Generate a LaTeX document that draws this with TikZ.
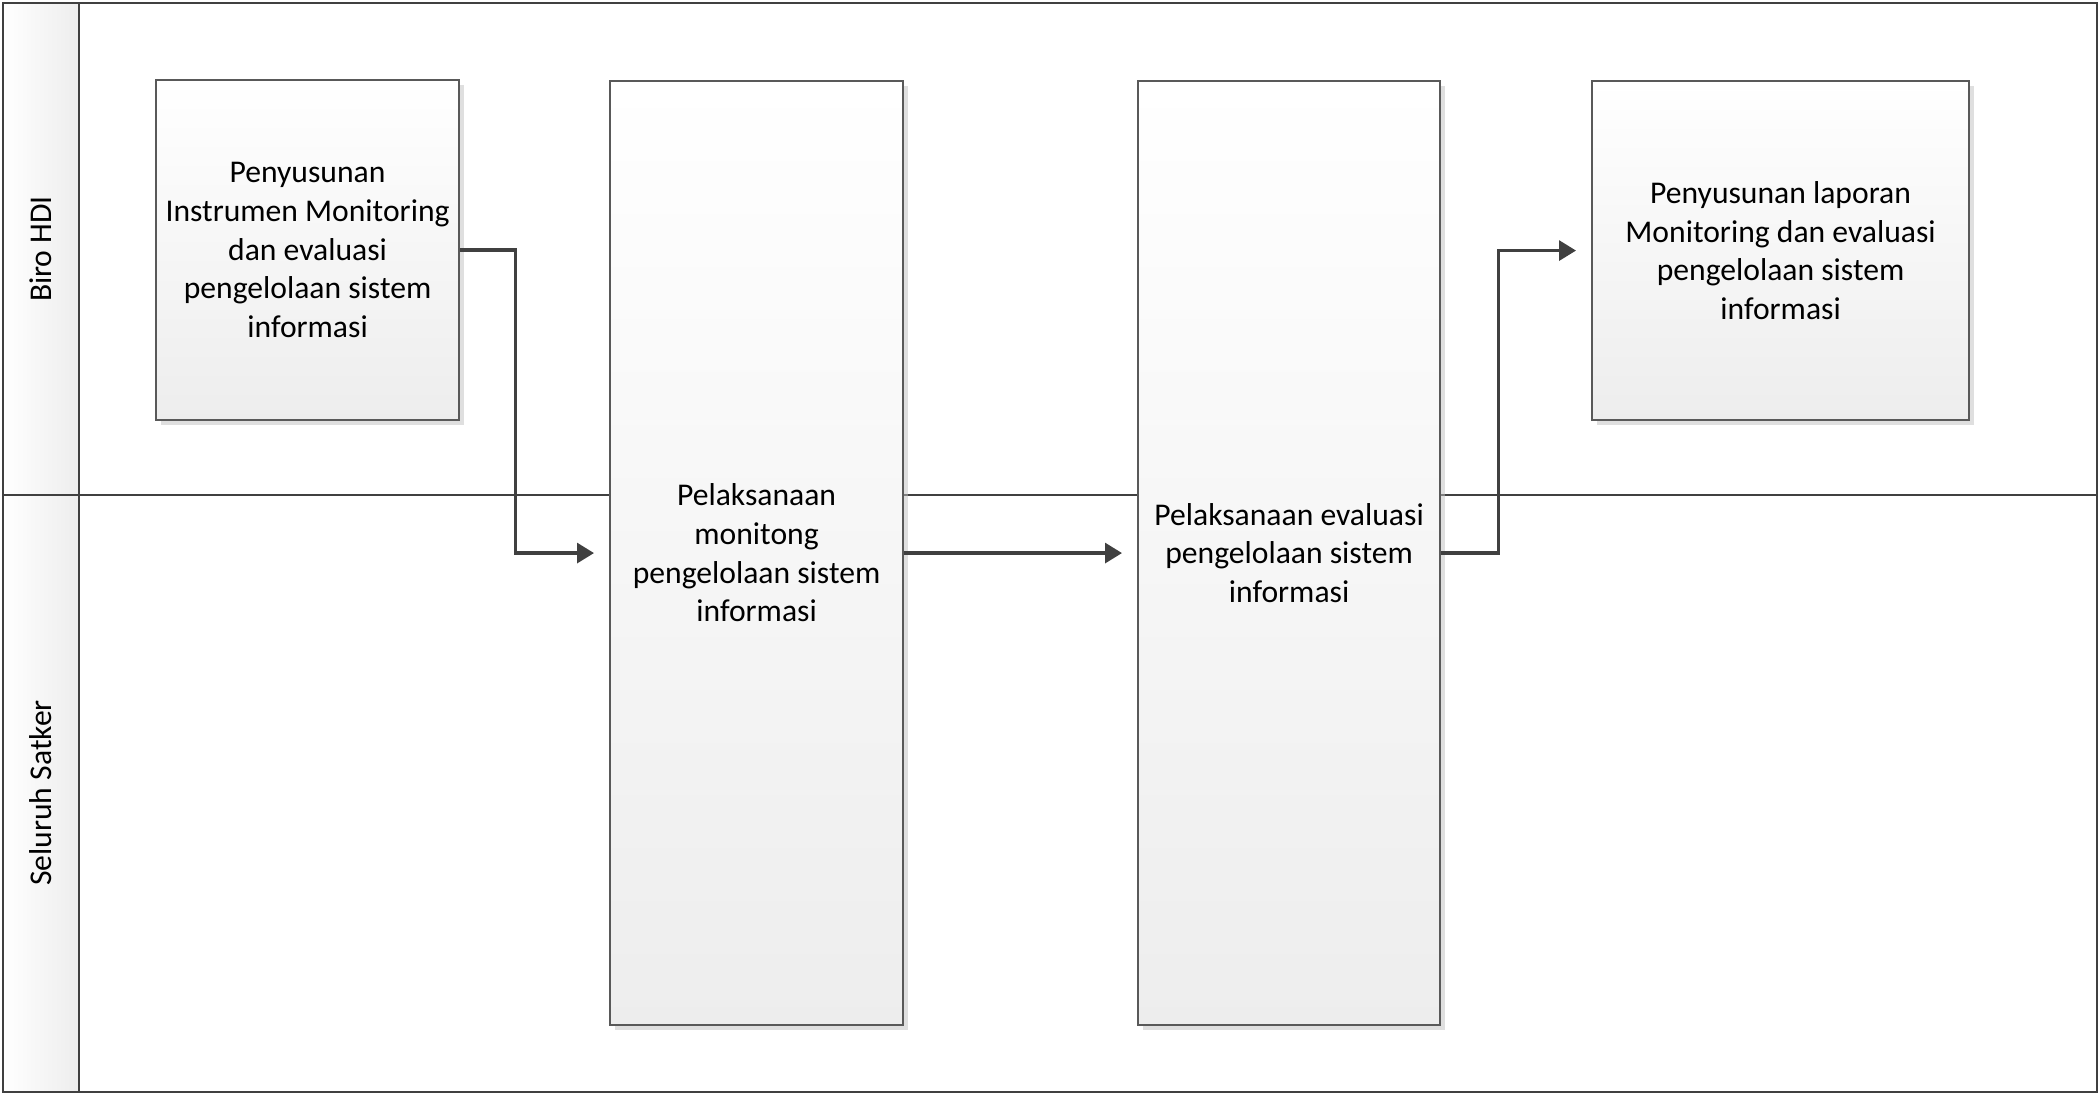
\documentclass[tikz,border=0pt]{standalone}
\usepackage{fontspec}
\setmainfont{Carlito}
\usetikzlibrary{arrows.meta,shadows}
\tikzset{
	task/.style={draw=black!65,line width=.6pt,top color=white,bottom color=black!7,anchor=north west,align=center,inner sep=0pt,font=\fontsize{9}{11}\selectfont,drop shadow={shadow xshift=.5mm,shadow yshift=-.5mm,fill=black!25,opacity=.5}},
	flow/.style={draw=black!75,line width=.9pt,shorten >=1.5mm,-{Triangle[length=1.7mm,width=2mm]}},
	lane/.style={draw=black!75,line width=.8pt},
	lanelabel/.style={rotate=90,font=\fontsize{9}{11}\selectfont},
}
\begin{document}
\begin{tikzpicture}[x=.1mm,y=-.1mm]
	\useasboundingbox(0,0)rectangle(2100,1095);
	\shade[left color=white,right color=black!7](3,3)rectangle(79,1092);
	\draw[lane](3,3)rectangle(2097,1092);
	\draw[lane](79,3)--(79,1092);
	\draw[lane](3,495)--(2097,495);
	\node[lanelabel](biro)at(41,249){Biro HDI};
	\node[lanelabel](satker)at(41,793){Seluruh Satker};
	\node[task,minimum width=3.03cm,minimum height=3.40cm](susun)at(155,79){Penyusunan\\Instrumen Monitoring\\dan evaluasi\\pengelolaan sistem\\informasi};
	\node[task,minimum width=2.93cm,minimum height=9.44cm](monitor)at(609,80){Pelaksanaan\\monitong\\pengelolaan sistem\\informasi};
	\node[task,minimum width=3.02cm,minimum height=9.44cm](evaluasi)at(1137,80){Pelaksanaan evaluasi\\pengelolaan sistem\\informasi};
	\node[task,minimum width=3.77cm,minimum height=3.39cm](laporan)at(1591,80){Penyusunan laporan\\Monitoring dan evaluasi\\pengelolaan sistem\\informasi};
	\draw[flow](susun.east)--++(55,0)|-(monitor.west);
	\draw[flow](monitor.east)--(evaluasi.west);
	\draw[flow](evaluasi.east)--++(57,0)|-(laporan.west);
\end{tikzpicture}
\end{document}
